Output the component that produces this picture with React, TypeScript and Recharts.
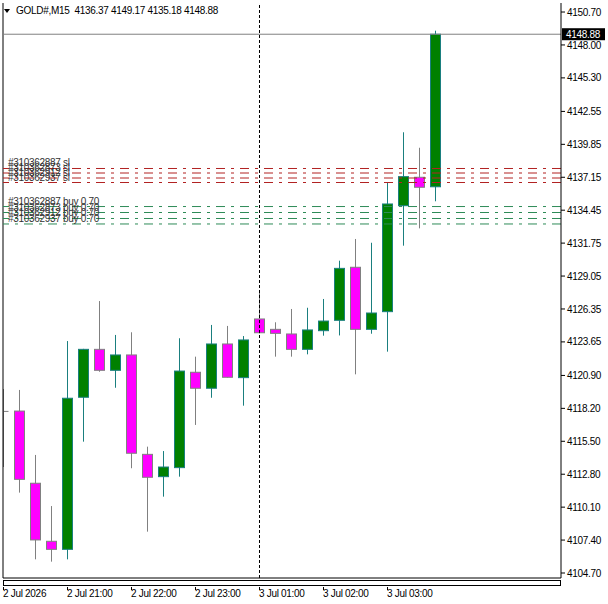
import React from 'react';
import { ComposedChart, Bar, XAxis, YAxis, ReferenceLine } from 'recharts';

// ---- data ----
const times = [
  '2 Jul 20:00', '2 Jul 20:15', '2 Jul 20:30', '2 Jul 20:45',
  '2 Jul 21:00', '2 Jul 21:15', '2 Jul 21:30', '2 Jul 21:45',
  '2 Jul 22:00', '2 Jul 22:15', '2 Jul 22:30', '2 Jul 22:45',
  '2 Jul 23:00', '2 Jul 23:15', '2 Jul 23:30', '2 Jul 23:45',
  '3 Jul 01:00', '3 Jul 01:15', '3 Jul 01:30', '3 Jul 01:45',
  '3 Jul 02:00', '3 Jul 02:15', '3 Jul 02:30', '3 Jul 02:45',
  '3 Jul 03:00', '3 Jul 03:15', '3 Jul 03:30', '3 Jul 03:45',
];
const opens = [
  4117.95, 4117.98, 4112.06, 4107.30, 4106.64, 4119.11, 4123.04, 4121.32,
  4122.58, 4114.43, 4112.60, 4113.34, 4121.16, 4119.85, 4123.48, 4120.72,
  4125.53, 4124.68, 4124.30, 4123.04, 4124.57, 4125.42, 4129.77, 4124.68,
  4126.13, 4134.82, 4137.15, 4136.37,
];
const highs = [
  4119.79, 4119.71, 4114.38, 4110.19, 4123.72, 4123.08, 4127.00, 4124.22,
  4124.44, 4115.06, 4114.70, 4123.95, 4122.44, 4125.04, 4124.96, 4124.13,
  4127.91, 4125.26, 4126.35, 4126.45, 4127.17, 4130.31, 4132.09, 4131.78,
  4136.74, 4140.84, 4139.57, 4149.17,
];
const lows = [
  4113.39, 4111.29, 4105.82, 4105.63, 4105.82, 4115.47, 4121.20, 4119.89,
  4113.29, 4108.09, 4110.96, 4112.60, 4116.84, 4119.07, 4120.72, 4118.42,
  4124.35, 4122.44, 4122.44, 4122.63, 4124.16, 4124.18, 4120.99, 4124.32,
  4122.85, 4131.54, 4132.96, 4135.18,
];
const closes = [
  4117.95, 4112.38, 4107.41, 4106.64, 4119.03, 4123.04, 4121.32, 4122.58,
  4114.52, 4112.55, 4113.39, 4121.26, 4119.85, 4123.48, 4120.75, 4123.81,
  4124.40, 4124.35, 4123.04, 4124.63, 4125.36, 4129.68, 4124.68, 4126.02,
  4134.96, 4137.20, 4136.33, 4148.88,
];
const timeTickIndex = [0, 4, 8, 12, 16, 20, 24];
const timeTickLabels = ['2 Jul 2026', '2 Jul 21:00', '2 Jul 22:00', '2 Jul 23:00', '3 Jul 01:00', '3 Jul 02:00', '3 Jul 03:00'];
const priceTicks = [
  4150.70, 4148.00, 4145.30, 4142.55, 4139.85, 4137.15, 4134.45, 4131.75, 4129.05,
  4126.35, 4123.65, 4120.90, 4118.20, 4115.50, 4112.80, 4110.10, 4107.40, 4104.70,
];
const slPrices = [4137.87, 4137.50, 4137.09, 4136.72];
const slLabels = ['#310362887 sl', '#310362873 sl', '#310362912 sl', '#310362937 sl'];
const buyPrices = [4134.75, 4134.26, 4133.77, 4133.32];
const buyLabels = ['#310362887 buy 0.70', '#310362873 buy 0.70', '#310362912 buy 0.70', '#310362937 buy 0.70'];
const lastPrice = 4148.88;
const separatorIndex = 16;
const symbolName = 'GOLD#,M15';
const headerOHLC = [4136.37, 4149.17, 4135.18, 4148.88];

// ---- layout / style ----
const W = 608;
const H = 604;
const FONT = "'Liberation Sans', Arial, sans-serif";
const FS = 10;
const LS = -0.3;
const X_DOMAIN: [number, number] = [-0.03125, 34.84375];
const Y_DOMAIN: [number, number] = [4104.29, 4151.44];
const BULL_FILL = '#008000';
const BULL_LINE = '#1a7f7f';
const BEAR_FILL = '#ff00ff';
const BEAR_LINE = '#808080';

const data = opens.map((o, i) => ({
  idx: i,
  time: times[i],
  open: o,
  high: highs[i],
  low: lows[i],
  close: closes[i],
  range: [lows[i], highs[i]],
}));

const Candle = (props: any) => {
  const { x, y, width, height, payload } = props;
  if (!payload || height == null) return null;
  const { open, close, high, low } = payload;
  const span = high - low;
  const k = span > 0 ? height / span : 0;
  const yOf = (v: number) => y + (high - v) * k;
  const cx = Math.floor(x + width / 2) + 0.5;
  const bull = close > open;
  const line = bull ? BULL_LINE : BEAR_LINE;
  const fill = bull ? BULL_FILL : BEAR_FILL;
  const top = yOf(Math.max(open, close));
  const bot = yOf(Math.min(open, close));
  const half = 5;
  return (
    <g>
      <line x1={cx} x2={cx} y1={y} y2={y + height} stroke={line} strokeWidth={1} />
      {bot - top < 1 ? (
        <line x1={cx - half} x2={cx + half} y1={top} y2={top} stroke={line} strokeWidth={1} />
      ) : (
        <rect x={cx - half} y={top} width={half * 2} height={bot - top} fill={fill} stroke={line} strokeWidth={1} />
      )}
    </g>
  );
};

const PriceTick = (props: any) => {
  const { x, y, payload } = props;
  return (
    <text x={x} y={y} dy="0.355em" textAnchor="start" fontFamily={FONT} fontSize={FS} letterSpacing={LS} fill="#000">
      {Number(payload.value).toFixed(2)}
    </text>
  );
};

const TimeTick = (props: any) => {
  const { x, y, payload } = props;
  const i = timeTickIndex.indexOf(payload.value);
  const label = i >= 0 ? timeTickLabels[i] : '';
  const tx = Math.floor(x) + 0.5;
  return (
    <g>
      <line x1={tx} x2={tx} y1={y + 9} y2={y + 12} stroke="#000" strokeWidth={1} />
      <text x={x - 0.5} y={y + 19} textAnchor="start" fontFamily={FONT} fontSize={FS} letterSpacing={LS} fill="#000">
        {label}
      </text>
    </g>
  );
};

const makeOrderLabel = (text: string) => (props: any) => {
  const vb = props.viewBox || {};
  return (
    <text x={vb.x + 5} y={vb.y - 2} fontFamily={FONT} fontSize={FS} letterSpacing={LS} fill="#333">
      {text}
    </text>
  );
};

const PriceTag = (props: any) => {
  const vb = props.viewBox || {};
  const rx = vb.x + vb.width + 1;
  return (
    <g>
      <rect x={rx} y={vb.y - 6} width={43} height={12} fill="#000" />
      <text x={rx + 4} y={vb.y} dy="0.355em" fontFamily={FONT} fontSize={FS} letterSpacing={LS} fill="#fff">
        {lastPrice.toFixed(2)}
      </text>
    </g>
  );
};

export default function App() {
  return (
    <div style={{ position: 'absolute', left: 0, top: 0, width: W, height: H, background: '#fff' }}>
      <ComposedChart
        width={W}
        height={H}
        data={data}
        margin={{ top: 3, right: 0, bottom: 0, left: 3 }}
      >
        <XAxis
          dataKey="idx"
          type="number"
          domain={X_DOMAIN}
          allowDataOverflow
          ticks={timeTickIndex}
          interval={0}
          height={26}
          tickSize={0}
          tickMargin={0}
          tickLine={false}
          axisLine={{ stroke: '#000', strokeWidth: 1 }}
          tick={<TimeTick />}
        />
        <YAxis
          orientation="right"
          type="number"
          domain={Y_DOMAIN}
          allowDataOverflow
          ticks={priceTicks}
          interval={0}
          width={47}
          tickSize={4}
          tickMargin={2}
          tickLine={{ stroke: '#000' }}
          axisLine={{ stroke: '#000', strokeWidth: 1 }}
          tick={<PriceTick />}
        />
        <ReferenceLine x={X_DOMAIN[0]} stroke="#000" strokeWidth={1} ifOverflow="visible" />
        <ReferenceLine x={separatorIndex} stroke="#000" strokeDasharray="3 2" strokeWidth={1} />
        {slPrices.map((p, i) => (
          <ReferenceLine
            key={'sl' + i}
            y={p}
            stroke="#b22222"
            strokeDasharray="9 6 3 6"
            strokeWidth={1}
            label={makeOrderLabel(slLabels[i])}
          />
        ))}
        {buyPrices.map((p, i) => (
          <ReferenceLine
            key={'buy' + i}
            y={p}
            stroke="#2e8b57"
            strokeDasharray="9 6 3 6"
            strokeWidth={1}
            label={makeOrderLabel(buyLabels[i])}
          />
        ))}
        <ReferenceLine y={lastPrice} stroke="#808080" strokeWidth={1} label={<PriceTag />} />
        <Bar dataKey="range" barSize={11} shape={<Candle />} isAnimationActive={false} />
      </ComposedChart>
      <svg width={W} height={H} style={{ position: 'absolute', left: 0, top: 0, pointerEvents: 'none' }}>
        <polygon points="4,9 10,9 7,13" fill="#000" />
        <text x={16} y={14} fontFamily={FONT} fontSize={FS} letterSpacing={LS} fill="#000" xmlSpace="preserve">
          {symbolName + '  ' + headerOHLC.map((v) => v.toFixed(2)).join(' ')}
        </text>
        <rect x={3.5} y={580.5} width={557} height={5} fill="none" stroke="#000" strokeWidth={1} />
      </svg>
    </div>
  );
}
